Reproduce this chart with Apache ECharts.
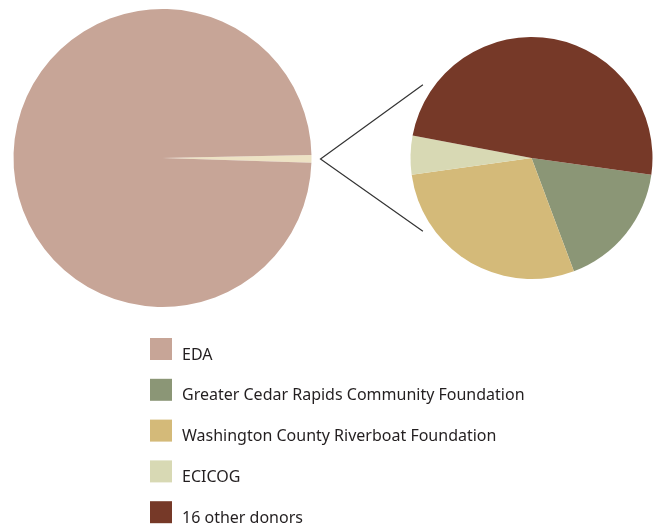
<!DOCTYPE html>
<html><head><meta charset="utf-8">
<script src="https://cdn.jsdelivr.net/npm/echarts@6/dist/echarts.min.js"></script>
<style>html,body{margin:0;padding:0;background:#fff}#c{width:655px;height:525px}</style>
</head><body><div id="c"></div>
<script>
// Data
var bigNames = ['All other donors', 'EDA'];
var bigValues = [0.85, 99.15];
var smallNames = ['Greater Cedar Rapids Community Foundation', 'Washington County Riverboat Foundation', 'ECICOG', '16 other donors'];
var smallValues = [17.1, 28.5, 5.2, 49.3];
var legendNames = ['EDA', 'Greater Cedar Rapids Community Foundation', 'Washington County Riverboat Foundation', 'ECICOG', '16 other donors'];

var colors = {
  'EDA': '#c7a597',
  'All other donors': '#ede2c4',
  'Greater Cedar Rapids Community Foundation': '#8b9676',
  'Washington County Riverboat Foundation': '#d4ba79',
  'ECICOG': '#d8d9b4',
  '16 other donors': '#763928'
};

var big = {cx: 162.5, cy: 158, r: 149};
var small = {cx: 531.5, cy: 158, r: 121};

function mk(names, vals) {
  return names.map(function (n, i) { return {name: n, value: vals[i], itemStyle: {color: colors[n]}}; });
}

// connector geometry derived from pie geometry
var apex = [big.cx + big.r + 9, big.cy + 1];
var ang = 146 * Math.PI / 180, rr = small.r + 10;
var endTop = [small.cx + rr * Math.cos(ang), small.cy - rr * Math.sin(ang)];
var endBot = [small.cx + rr * Math.cos(ang), small.cy + rr * Math.sin(ang)];

var chart = echarts.init(document.getElementById('c'));
chart.setOption({
  animation: false,
  legend: {
    orient: 'vertical', left: 150, top: 338, height: 260, padding: 0,
    itemWidth: 22, itemHeight: 22, itemGap: 15.8, icon: 'rect',
    data: legendNames,
    selectedMode: false,
    formatter: '{t|{name}}',
    textStyle: {
      fontFamily: 'Noto Sans', fontSize: 16, color: '#231f20',
      rich: {t: {fontFamily: 'Noto Sans', fontSize: 16, color: '#231f20', padding: [12, 0, 0, 5]}}
    }
  },
  graphic: [
    {type: 'polyline', shape: {points: [endTop, apex, endBot]}, style: {stroke: '#333', lineWidth: 1.2, fill: null}, silent: true}
  ],
  series: [
    {
      type: 'pie', center: [big.cx, big.cy], radius: big.r, startAngle: 1.2, clockwise: true,
      label: {show: false}, labelLine: {show: false}, emphasis: {disabled: true}, silent: true,
      data: mk(bigNames, bigValues)
    },
    {
      type: 'pie', center: [small.cx, small.cy], radius: small.r, startAngle: -8, clockwise: true,
      label: {show: false}, labelLine: {show: false}, emphasis: {disabled: true}, silent: true,
      data: mk(smallNames, smallValues)
    }
  ]
});
</script></body></html>
